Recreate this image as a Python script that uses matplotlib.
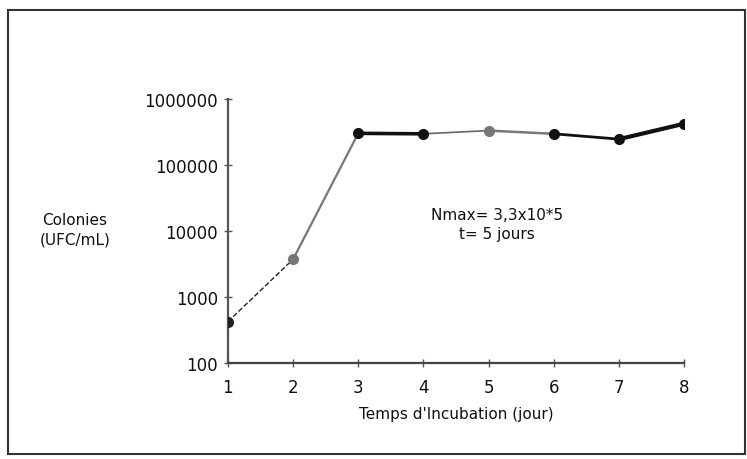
import numpy as np
import matplotlib
matplotlib.use("Agg")
import matplotlib.pyplot as plt
from matplotlib.patches import Rectangle

# jours d'incubation et colonies (UFC/mL)
jours = [1, 2, 3, 4, 5, 6, 7, 8]
colonies = [420, 3700, 300000, 295000, 330000, 295000, 245000, 420000]

# style de chaque segment entre deux jours consecutifs
seg_couleur = ["#222222", "#777777", "#111111", "#666666", "#777777", "#111111", "#111111"]
seg_style = ["--", "-", "-", "-", "-", "-", "-"]
seg_epaisseur = [1.0, 1.6, 2.6, 1.2, 1.8, 2.0, 3.0]
pt_couleur = ["#222222", "#777777", "#111111", "#111111", "#777777", "#111111", "#111111", "#111111"]

plt.rcParams['font.family'] = ['DejaVu Sans']

fig = plt.figure(figsize=(7.47, 4.6), dpi=100)
fig.patch.set_facecolor("white")
ax = fig.add_axes([0.305, 0.209, 0.611, 0.574])

for i in range(len(jours) - 1):
    ax.plot(jours[i:i+2], colonies[i:i+2], linestyle=seg_style[i],
            color=seg_couleur[i], lw=seg_epaisseur[i], zorder=2)
for x, y, c in zip(jours, colonies, pt_couleur):
    ax.plot(x, y, 'o', color=c, ms=7, zorder=3)

ax.set_yscale('log')
ax.set_ylim(100, 1000000)
ax.set_xlim(1, 8)
ax.set_yticks([100, 1000, 10000, 100000, 1000000])
ax.set_yticklabels(['100', '1000', '10000', '100000', '1000000'])
ax.yaxis.set_minor_locator(matplotlib.ticker.NullLocator())
ax.set_xticks(jours)
ax.set_xticklabels([str(j) for j in jours])

for s in ['top', 'right']:
    ax.spines[s].set_visible(False)
ax.spines['left'].set_color('#555555')
ax.spines['bottom'].set_color('#444444')
ax.spines['left'].set_linewidth(1.6)
ax.spines['bottom'].set_linewidth(1.6)
ax.tick_params(direction='inout', length=6, width=1, colors='#555555',
               labelcolor='#111111', labelsize=12)
ax.tick_params(axis='x', pad=8)
ax.tick_params(axis='y', pad=4)

ax.set_xlabel("Temps d'Incubation (jour)", fontsize=11, color='#111111', labelpad=7)
fig.text(0.1, 0.5, "Colonies\n(UFC/mL)", ha='center', va='center',
         fontsize=11, color='#111111', linespacing=1.4)
ax.text(5.13, 12600, "Nmax= 3,3x10*5\nt= 5 jours", ha='center', va='center',
        fontsize=11, color='#111111', linespacing=1.3)

# cadre autour de la figure
fig.patches.append(Rectangle((0.011, 0.011), 0.986, 0.965, transform=fig.transFigure,
                             fill=False, edgecolor='#333333', lw=1.5))

fig.savefig("out.png", dpi=100)
